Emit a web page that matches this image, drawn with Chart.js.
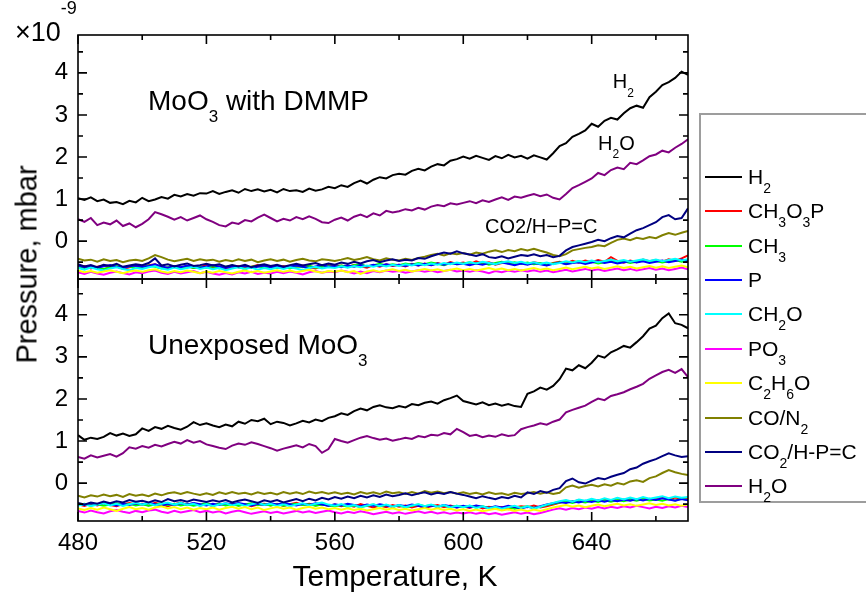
<!DOCTYPE html>
<html>
<head>
<meta charset="utf-8">
<script src="https://cdn.jsdelivr.net/npm/chart.js@4.4.1/dist/chart.umd.min.js"></script>
<style>
  html, body { margin: 0; padding: 0; background: #fff; }
  body {
    width: 866px; height: 595px; position: relative; overflow: hidden;
    font-family: "Liberation Sans", Arial, sans-serif; color: #000;
  }
  canvas { position: absolute; left: 0; }
  #top-canvas { top: 0; }
  #bottom-canvas { top: 245px; }
  .txt { position: absolute; white-space: nowrap; }
  #y-title {
    left: -123px; top: 250px; width: 300px; height: 29px;
    font-size: 29px; line-height: 29px; text-align: center;
    transform: rotate(-90deg);
  }
  #x-title {
    left: 245px; top: 561px; width: 300px;
    font-size: 30px; line-height: 30px; text-align: center;
  }
  #exponent { left: 15px; top: 19px; font-size: 27px; line-height: 27px; }
  #exponent .sup { font-size: 18px; line-height: 0; position: relative; top: -27px; }
  #legend-box {
    position: absolute; left: 699px; top: 113px; width: 200px; height: 390px;
    border: 2px solid #9d9d9d; box-sizing: border-box; background: #fff;
  }
  .item {
    position: absolute; left: 705px; height: 30px; display: flex; align-items: center;
    font-size: 21px; line-height: 30px; white-space: nowrap;
  }
  .swatch { width: 37px; height: 2px; margin-right: 6px; }
  .item sub { font-size: 14px; line-height: 0; vertical-align: -9px; }
</style>
</head>
<body>
<canvas id="top-canvas" width="700" height="310"></canvas>
<canvas id="bottom-canvas" width="700" height="350"></canvas>
<div id="y-title" class="txt">Pressure, mbar</div>
<div id="x-title" class="txt">Temperature, K</div>
<div id="exponent" class="txt">×10<span class="sup">-9</span></div>
<div id="legend-box"></div>
<div id="legend"></div>
<script>
const FONT = '"Liberation Sans", Arial, sans-serif';

const temps = [
  480, 482, 484, 486, 488, 490, 492, 494, 496, 498,
  500, 502, 504, 506, 508, 510, 512, 514, 516, 518,
  520, 522, 524, 526, 528, 530, 532, 534, 536, 538,
  540, 542, 544, 546, 548, 550, 552, 554, 556, 558,
  560, 562, 564, 566, 568, 570, 572, 574, 576, 578,
  580, 582, 584, 586, 588, 590, 592, 594, 596, 598,
  600, 602, 604, 606, 608, 610, 612, 614, 616, 618,
  620, 622, 624, 626, 628, 630, 632, 634, 636, 638,
  640, 642, 644, 646, 648, 650, 652, 654, 656, 658,
  660, 662, 664, 666, 668, 670
];

const xTickValues = [480, 520, 560, 600, 640];
const xMinorValues = [500, 540, 580, 620, 660];
const yTickValues = [0, 1, 2, 3, 4];
const yMinorValues = [-0.5, 0.5, 1.5, 2.5, 3.5, 4.5];

const seriesNames = ["H_2", "CH_3O_3P", "CH_3", "P", "CH_2O", "PO_3", "C_2H_6O", "CO/N_2", "CO_2/H-P=C", "H_2O"];
const seriesColors = ["#000000", "#ff0000", "#00ff00", "#0000ff", "#00ffff", "#ff00ff", "#ffff00", "#808000", "#000080", "#800080"];

// ---- top panel: MoO3 with DMMP ----
const topH2 = [
  1.02, 0.98, 1.04, 0.95, 0.99, 0.91, 0.93, 0.88, 0.96, 0.92,
  1.03, 0.95, 0.99, 1.05, 1.01, 1.10, 1.06, 1.12, 1.08, 1.14,
  1.13, 1.19, 1.12, 1.17, 1.21, 1.15, 1.24, 1.19, 1.23, 1.18,
  1.22, 1.16, 1.24, 1.19, 1.21, 1.17, 1.25, 1.20, 1.23, 1.29,
  1.26, 1.33, 1.29, 1.38, 1.44, 1.37, 1.46, 1.52, 1.49, 1.57,
  1.60, 1.58, 1.67, 1.72, 1.68, 1.77, 1.83, 1.80, 1.91, 1.95,
  2.01, 1.96, 2.03, 1.98, 1.93, 2.02, 1.97, 2.05, 1.99, 2.03,
  1.96, 2.04, 1.99, 1.94, 2.09, 2.26, 2.33, 2.48, 2.55, 2.63,
  2.79, 2.72, 2.86, 2.93, 2.89, 3.04, 3.16, 3.22, 3.17, 3.42,
  3.55, 3.71, 3.78, 3.88, 4.03, 3.95
];
const topCH3O3P = [
  -0.63, -0.59, -0.65, -0.61, -0.58, -0.64, -0.60, -0.66, -0.62, -0.59,
  -0.61, -0.57, -0.55, -0.62, -0.66, -0.60, -0.63, -0.59, -0.64, -0.61,
  -0.58, -0.63, -0.60, -0.66, -0.62, -0.59, -0.64, -0.61, -0.57, -0.62,
  -0.60, -0.64, -0.59, -0.63, -0.61, -0.58, -0.62, -0.65, -0.60, -0.57,
  -0.61, -0.58, -0.62, -0.56, -0.60, -0.63, -0.57, -0.61, -0.55, -0.59,
  -0.56, -0.60, -0.54, -0.58, -0.53, -0.57, -0.52, -0.56, -0.50, -0.54,
  -0.51, -0.55, -0.48, -0.53, -0.50, -0.56, -0.52, -0.49, -0.54, -0.51,
  -0.55, -0.50, -0.53, -0.57, -0.52, -0.49, -0.53, -0.47, -0.51, -0.46,
  -0.50, -0.45, -0.49, -0.38, -0.47, -0.51, -0.46, -0.50, -0.44, -0.48,
  -0.45, -0.49, -0.43, -0.47, -0.41, -0.34
];
const topCH3 = [
  -0.61, -0.64, -0.60, -0.63, -0.66, -0.62, -0.59, -0.63, -0.60, -0.64,
  -0.62, -0.58, -0.61, -0.65, -0.62, -0.59, -0.63, -0.60, -0.64, -0.61,
  -0.63, -0.60, -0.65, -0.61, -0.58, -0.62, -0.66, -0.61, -0.59, -0.63,
  -0.60, -0.63, -0.61, -0.65, -0.60, -0.62, -0.58, -0.63, -0.61, -0.59,
  -0.62, -0.58, -0.61, -0.57, -0.55, -0.60, -0.57, -0.54, -0.58, -0.55,
  -0.57, -0.53, -0.56, -0.52, -0.55, -0.51, -0.54, -0.57, -0.52, -0.55,
  -0.53, -0.50, -0.54, -0.51, -0.56, -0.52, -0.49, -0.53, -0.50, -0.54,
  -0.51, -0.55, -0.52, -0.56, -0.53, -0.50, -0.54, -0.51, -0.48, -0.52,
  -0.49, -0.53, -0.50, -0.47, -0.51, -0.48, -0.52, -0.49, -0.46, -0.50,
  -0.47, -0.51, -0.48, -0.45, -0.49, -0.46
];
const topP = [
  -0.58, -0.62, -0.59, -0.63, -0.60, -0.57, -0.61, -0.64, -0.60, -0.58,
  -0.61, -0.59, -0.55, -0.60, -0.63, -0.59, -0.62, -0.58, -0.61, -0.63,
  -0.60, -0.57, -0.61, -0.64, -0.60, -0.62, -0.59, -0.63, -0.61, -0.58,
  -0.62, -0.59, -0.63, -0.60, -0.58, -0.61, -0.64, -0.60, -0.57, -0.61,
  -0.59, -0.62, -0.58, -0.61, -0.57, -0.60, -0.56, -0.59, -0.55, -0.58,
  -0.56, -0.59, -0.55, -0.58, -0.54, -0.57, -0.53, -0.56, -0.52, -0.55,
  -0.54, -0.57, -0.53, -0.56, -0.52, -0.55, -0.51, -0.54, -0.57, -0.53,
  -0.56, -0.52, -0.55, -0.58, -0.54, -0.51, -0.55, -0.52, -0.50, -0.54,
  -0.51, -0.48, -0.52, -0.49, -0.53, -0.50, -0.47, -0.51, -0.48, -0.52,
  -0.49, -0.46, -0.50, -0.47, -0.44, -0.48
];
const topCH2O = [
  -0.64, -0.68, -0.63, -0.67, -0.70, -0.65, -0.62, -0.66, -0.69, -0.64,
  -0.66, -0.62, -0.60, -0.65, -0.68, -0.63, -0.67, -0.64, -0.61, -0.66,
  -0.63, -0.67, -0.64, -0.69, -0.65, -0.62, -0.66, -0.63, -0.68, -0.64,
  -0.67, -0.63, -0.66, -0.62, -0.65, -0.69, -0.64, -0.61, -0.65, -0.62,
  -0.64, -0.60, -0.63, -0.59, -0.62, -0.58, -0.61, -0.57, -0.60, -0.56,
  -0.59, -0.55, -0.58, -0.54, -0.57, -0.53, -0.56, -0.52, -0.55, -0.51,
  -0.54, -0.50, -0.53, -0.49, -0.52, -0.55, -0.51, -0.48, -0.52, -0.49,
  -0.53, -0.50, -0.54, -0.51, -0.55, -0.52, -0.48, -0.51, -0.47, -0.50,
  -0.46, -0.50, -0.47, -0.44, -0.48, -0.45, -0.49, -0.46, -0.43, -0.47,
  -0.44, -0.48, -0.45, -0.42, -0.46, -0.43
];
const topPO3 = [
  -0.74, -0.78, -0.73, -0.77, -0.80, -0.75, -0.72, -0.76, -0.79, -0.74,
  -0.76, -0.72, -0.70, -0.75, -0.78, -0.73, -0.77, -0.74, -0.71, -0.76,
  -0.73, -0.77, -0.80, -0.76, -0.79, -0.74, -0.77, -0.73, -0.78, -0.75,
  -0.77, -0.73, -0.76, -0.72, -0.75, -0.79, -0.74, -0.71, -0.75, -0.72,
  -0.74, -0.70, -0.73, -0.77, -0.72, -0.76, -0.71, -0.74, -0.70, -0.73,
  -0.71, -0.75, -0.72, -0.69, -0.73, -0.70, -0.74, -0.71, -0.68, -0.72,
  -0.70, -0.73, -0.69, -0.72, -0.76, -0.71, -0.74, -0.70, -0.73, -0.69,
  -0.72, -0.69, -0.73, -0.70, -0.74, -0.71, -0.68, -0.72, -0.69, -0.66,
  -0.70, -0.67, -0.71, -0.68, -0.65, -0.69, -0.66, -0.70, -0.67, -0.64,
  -0.68, -0.65, -0.69, -0.66, -0.63, -0.67
];
const topC2H6O = [
  -0.70, -0.74, -0.71, -0.75, -0.72, -0.69, -0.73, -0.76, -0.72, -0.70,
  -0.73, -0.69, -0.67, -0.72, -0.75, -0.71, -0.74, -0.70, -0.73, -0.76,
  -0.72, -0.75, -0.71, -0.74, -0.77, -0.73, -0.70, -0.74, -0.71, -0.75,
  -0.72, -0.69, -0.73, -0.70, -0.74, -0.71, -0.68, -0.72, -0.75, -0.71,
  -0.73, -0.70, -0.74, -0.71, -0.78, -0.72, -0.69, -0.73, -0.70, -0.67,
  -0.71, -0.68, -0.72, -0.69, -0.66, -0.70, -0.67, -0.71, -0.68, -0.65,
  -0.69, -0.66, -0.70, -0.67, -0.64, -0.68, -0.65, -0.69, -0.66, -0.70,
  -0.67, -0.64, -0.68, -0.65, -0.69, -0.66, -0.63, -0.67, -0.64, -0.61,
  -0.65, -0.62, -0.66, -0.63, -0.60, -0.64, -0.61, -0.65, -0.62, -0.59,
  -0.63, -0.60, -0.64, -0.61, -0.58, -0.62
];
const topCON2 = [
  -0.42, -0.46, -0.44, -0.49, -0.43, -0.47, -0.45, -0.50, -0.46, -0.44,
  -0.47, -0.41, -0.33, -0.38, -0.44, -0.48, -0.45, -0.42, -0.47, -0.43,
  -0.46, -0.44, -0.49, -0.45, -0.48, -0.43, -0.47, -0.44, -0.50, -0.46,
  -0.43, -0.47, -0.44, -0.49, -0.45, -0.42, -0.46, -0.48, -0.43, -0.45,
  -0.47, -0.44, -0.40, -0.45, -0.42, -0.38, -0.43, -0.46, -0.41, -0.44,
  -0.46, -0.42, -0.45, -0.40, -0.37, -0.33, -0.30, -0.34, -0.29, -0.31,
  -0.28, -0.32, -0.27, -0.30, -0.25, -0.22, -0.26, -0.21, -0.24, -0.19,
  -0.22, -0.18, -0.23, -0.27, -0.33, -0.36, -0.31, -0.22, -0.19, -0.16,
  -0.14, -0.10, -0.12, -0.04, 0.03, 0.06, 0.02, 0.08, 0.05, 0.10,
  0.07, 0.14, 0.19, 0.15, 0.20, 0.24
];
const topCO2 = [
  -0.55, -0.60, -0.57, -0.62, -0.56, -0.59, -0.54, -0.61, -0.58, -0.55,
  -0.57, -0.52, -0.41, -0.58, -0.55, -0.60, -0.56, -0.53, -0.59, -0.57,
  -0.54, -0.58, -0.55, -0.61, -0.57, -0.60, -0.56, -0.62, -0.58, -0.55,
  -0.59, -0.56, -0.61, -0.57, -0.54, -0.58, -0.55, -0.52, -0.57, -0.53,
  -0.56, -0.51, -0.54, -0.49, -0.53, -0.48, -0.45, -0.50, -0.46, -0.43,
  -0.47, -0.44, -0.46, -0.40, -0.42, -0.36, -0.31, -0.27, -0.30, -0.24,
  -0.29, -0.32, -0.35, -0.31, -0.38, -0.40, -0.36, -0.41, -0.37, -0.33,
  -0.35, -0.31, -0.36, -0.33, -0.38, -0.35, -0.22, -0.14, -0.10, -0.06,
  -0.02, 0.03, 0.00, 0.07, 0.12, 0.09, 0.18, 0.26, 0.31, 0.38,
  0.45, 0.57, 0.62, 0.52, 0.55, 0.78
];
const topH2O = [
  0.52, 0.46, 0.55, 0.38, 0.44, 0.40, 0.49, 0.36, 0.42, 0.33,
  0.41, 0.52, 0.69, 0.64, 0.58, 0.51, 0.57, 0.49, 0.55, 0.61,
  0.52, 0.46, 0.38, 0.35, 0.44, 0.41, 0.50, 0.47, 0.56, 0.63,
  0.55, 0.47, 0.53, 0.49, 0.57, 0.52, 0.59, 0.53, 0.45, 0.43,
  0.51, 0.56, 0.49, 0.58, 0.63, 0.57, 0.66, 0.61, 0.72, 0.68,
  0.71, 0.76, 0.73, 0.79, 0.75, 0.82, 0.86, 0.83, 0.90, 0.87,
  0.91, 0.95, 0.90, 0.97, 0.93, 0.99, 1.04, 0.98, 1.06, 1.03,
  1.08, 1.12, 1.07, 1.11, 1.03, 0.99, 1.12, 1.26, 1.33, 1.41,
  1.49, 1.62, 1.57, 1.69, 1.75, 1.71, 1.86, 1.83, 1.92, 2.02,
  2.06, 2.15, 2.11, 2.22, 2.31, 2.42
];

// ---- bottom panel: unexposed MoO3 ----
const botH2 = [
  1.14, 1.03, 1.08, 1.05, 1.10, 1.19, 1.13, 1.18, 1.12, 1.16,
  1.30, 1.24, 1.33, 1.29, 1.36, 1.31, 1.27, 1.34, 1.45, 1.38,
  1.42, 1.37, 1.33, 1.39, 1.35, 1.46, 1.41, 1.50, 1.47, 1.53,
  1.40, 1.46, 1.43, 1.37, 1.42, 1.48, 1.44, 1.51, 1.47, 1.55,
  1.59, 1.66, 1.62, 1.71, 1.77, 1.73, 1.81, 1.85, 1.80, 1.78,
  1.83, 1.80, 1.88, 1.85, 1.91, 1.94, 1.89, 1.97, 2.02, 2.08,
  1.95, 1.91, 1.87, 1.92, 1.85, 1.89, 1.84, 1.88, 1.83, 1.81,
  2.12, 2.18, 2.27, 2.22, 2.31, 2.47, 2.72, 2.68, 2.80, 2.73,
  2.86, 3.03, 2.98, 3.11, 3.18, 3.26, 3.22, 3.35, 3.49, 3.67,
  3.74, 3.92, 4.03, 3.80, 3.76, 3.68
];
const botCH3O3P = [
  -0.50, -0.54, -0.49, -0.53, -0.48, -0.52, -0.55, -0.50, -0.47, -0.51,
  -0.49, -0.53, -0.47, -0.51, -0.55, -0.50, -0.46, -0.52, -0.48, -0.53,
  -0.50, -0.54, -0.49, -0.52, -0.48, -0.53, -0.50, -0.55, -0.51, -0.49,
  -0.53, -0.49, -0.54, -0.50, -0.47, -0.52, -0.49, -0.53, -0.50, -0.54,
  -0.51, -0.55, -0.52, -0.56, -0.50, -0.54, -0.58, -0.53, -0.57, -0.52,
  -0.56, -0.53, -0.58, -0.54, -0.59, -0.55, -0.52, -0.57, -0.53, -0.58,
  -0.55, -0.59, -0.54, -0.60, -0.56, -0.61, -0.57, -0.62, -0.58, -0.55,
  -0.57, -0.53, -0.58, -0.55, -0.51, -0.47, -0.42, -0.45, -0.40, -0.44,
  -0.39, -0.43, -0.38, -0.42, -0.36, -0.41, -0.37, -0.40, -0.35, -0.39,
  -0.36, -0.33, -0.38, -0.34, -0.37, -0.35
];
const botCH3 = [
  -0.52, -0.49, -0.53, -0.50, -0.54, -0.51, -0.48, -0.52, -0.49, -0.53,
  -0.50, -0.54, -0.51, -0.48, -0.52, -0.49, -0.53, -0.50, -0.54, -0.51,
  -0.48, -0.52, -0.49, -0.53, -0.50, -0.54, -0.51, -0.48, -0.52, -0.50,
  -0.53, -0.50, -0.54, -0.51, -0.49, -0.52, -0.50, -0.54, -0.51, -0.53,
  -0.55, -0.52, -0.56, -0.53, -0.57, -0.54, -0.51, -0.55, -0.52, -0.56,
  -0.53, -0.57, -0.54, -0.51, -0.55, -0.52, -0.56, -0.53, -0.57, -0.54,
  -0.57, -0.54, -0.58, -0.55, -0.59, -0.56, -0.60, -0.57, -0.61, -0.58,
  -0.55, -0.59, -0.56, -0.52, -0.49, -0.46, -0.44, -0.47, -0.43, -0.46,
  -0.42, -0.45, -0.41, -0.44, -0.40, -0.43, -0.39, -0.42, -0.38, -0.41,
  -0.39, -0.42, -0.38, -0.41, -0.37, -0.40
];
const botP = [
  -0.49, -0.52, -0.48, -0.51, -0.47, -0.50, -0.53, -0.49, -0.52, -0.48,
  -0.51, -0.47, -0.50, -0.53, -0.49, -0.52, -0.48, -0.51, -0.47, -0.50,
  -0.53, -0.49, -0.52, -0.48, -0.51, -0.47, -0.50, -0.53, -0.49, -0.52,
  -0.48, -0.51, -0.47, -0.50, -0.53, -0.49, -0.52, -0.48, -0.51, -0.54,
  -0.50, -0.53, -0.49, -0.52, -0.55, -0.51, -0.54, -0.50, -0.53, -0.56,
  -0.52, -0.55, -0.51, -0.54, -0.57, -0.53, -0.56, -0.52, -0.55, -0.58,
  -0.54, -0.57, -0.53, -0.56, -0.59, -0.55, -0.58, -0.54, -0.57, -0.60,
  -0.56, -0.59, -0.55, -0.51, -0.48, -0.45, -0.47, -0.43, -0.46, -0.42,
  -0.45, -0.41, -0.44, -0.40, -0.43, -0.39, -0.42, -0.38, -0.41, -0.37,
  -0.40, -0.36, -0.39, -0.42, -0.38, -0.41
];
const botCH2O = [
  -0.53, -0.50, -0.55, -0.51, -0.48, -0.53, -0.49, -0.54, -0.50, -0.47,
  -0.51, -0.48, -0.53, -0.49, -0.46, -0.51, -0.47, -0.52, -0.49, -0.54,
  -0.50, -0.55, -0.51, -0.48, -0.53, -0.49, -0.54, -0.50, -0.47, -0.52,
  -0.49, -0.54, -0.50, -0.55, -0.51, -0.48, -0.53, -0.49, -0.46, -0.51,
  -0.54, -0.50, -0.55, -0.52, -0.57, -0.53, -0.50, -0.55, -0.51, -0.56,
  -0.52, -0.57, -0.53, -0.50, -0.55, -0.51, -0.56, -0.52, -0.58, -0.54,
  -0.57, -0.53, -0.59, -0.55, -0.60, -0.56, -0.61, -0.57, -0.54, -0.59,
  -0.55, -0.60, -0.56, -0.51, -0.47, -0.43, -0.40, -0.44, -0.39, -0.42,
  -0.37, -0.41, -0.36, -0.40, -0.35, -0.39, -0.34, -0.38, -0.33, -0.37,
  -0.34, -0.31, -0.36, -0.32, -0.35, -0.33
];
const botPO3 = [
  -0.66, -0.70, -0.65, -0.69, -0.72, -0.67, -0.64, -0.68, -0.71, -0.66,
  -0.69, -0.65, -0.63, -0.68, -0.71, -0.66, -0.70, -0.67, -0.64, -0.69,
  -0.66, -0.70, -0.67, -0.72, -0.68, -0.65, -0.69, -0.73, -0.70, -0.67,
  -0.71, -0.68, -0.72, -0.69, -0.66, -0.70, -0.67, -0.71, -0.68, -0.65,
  -0.69, -0.72, -0.68, -0.71, -0.67, -0.70, -0.74, -0.71, -0.68, -0.72,
  -0.69, -0.73, -0.70, -0.67, -0.71, -0.68, -0.72, -0.69, -0.73, -0.70,
  -0.72, -0.69, -0.73, -0.70, -0.74, -0.71, -0.75, -0.72, -0.69, -0.73,
  -0.70, -0.74, -0.71, -0.67, -0.63, -0.60, -0.63, -0.59, -0.62, -0.58,
  -0.61, -0.57, -0.60, -0.56, -0.59, -0.55, -0.58, -0.54, -0.57, -0.60,
  -0.56, -0.59, -0.55, -0.58, -0.54, -0.57
];
const botC2H6O = [
  -0.60, -0.64, -0.59, -0.63, -0.58, -0.62, -0.66, -0.61, -0.57, -0.62,
  -0.59, -0.63, -0.58, -0.55, -0.60, -0.57, -0.62, -0.58, -0.63, -0.59,
  -0.62, -0.58, -0.63, -0.59, -0.56, -0.61, -0.57, -0.62, -0.58, -0.64,
  -0.60, -0.57, -0.61, -0.58, -0.63, -0.59, -0.56, -0.61, -0.58, -0.62,
  -0.59, -0.63, -0.60, -0.64, -0.61, -0.65, -0.62, -0.59, -0.63, -0.60,
  -0.64, -0.61, -0.65, -0.62, -0.59, -0.63, -0.60, -0.64, -0.61, -0.65,
  -0.62, -0.66, -0.63, -0.67, -0.64, -0.61, -0.65, -0.62, -0.66, -0.63,
  -0.67, -0.63, -0.66, -0.62, -0.58, -0.55, -0.52, -0.56, -0.53, -0.57,
  -0.54, -0.51, -0.55, -0.52, -0.49, -0.53, -0.50, -0.54, -0.51, -0.48,
  -0.52, -0.49, -0.53, -0.50, -0.54, -0.51
];
const botCON2 = [
  -0.30, -0.34, -0.29, -0.32, -0.27, -0.31, -0.28, -0.33, -0.26, -0.30,
  -0.27, -0.31, -0.25, -0.29, -0.24, -0.22, -0.26, -0.21, -0.25, -0.28,
  -0.24, -0.28, -0.22, -0.26, -0.21, -0.25, -0.23, -0.27, -0.22, -0.26,
  -0.23, -0.27, -0.21, -0.25, -0.22, -0.26, -0.20, -0.24, -0.21, -0.25,
  -0.22, -0.26, -0.23, -0.27, -0.21, -0.25, -0.22, -0.26, -0.20, -0.24,
  -0.22, -0.26, -0.21, -0.25, -0.19, -0.23, -0.20, -0.24, -0.21, -0.25,
  -0.22, -0.26, -0.23, -0.27, -0.22, -0.26, -0.24, -0.28, -0.23, -0.26,
  -0.24, -0.21, -0.25, -0.22, -0.26, -0.23, -0.10, -0.06, -0.11, -0.07,
  -0.04, -0.08, -0.03, -0.06, 0.00, -0.03, 0.04, 0.07, 0.03, 0.12,
  0.16, 0.24, 0.31, 0.26, 0.22, 0.19
];
const botCO2 = [
  -0.47, -0.51, -0.46, -0.49, -0.44, -0.48, -0.43, -0.46, -0.40, -0.44,
  -0.42, -0.46, -0.41, -0.45, -0.38, -0.43, -0.40, -0.44, -0.39, -0.42,
  -0.45, -0.41, -0.44, -0.40, -0.46, -0.42, -0.39, -0.43, -0.47, -0.41,
  -0.44, -0.40, -0.46, -0.42, -0.38, -0.43, -0.37, -0.41, -0.35, -0.39,
  -0.33, -0.37, -0.32, -0.36, -0.30, -0.34, -0.29, -0.33, -0.27, -0.31,
  -0.28, -0.24, -0.29, -0.25, -0.22, -0.27, -0.23, -0.26, -0.21, -0.25,
  -0.28, -0.32, -0.36, -0.31, -0.35, -0.38, -0.33, -0.36, -0.30, -0.34,
  -0.22, -0.26, -0.19, -0.23, -0.16, -0.12, 0.05, 0.11, 0.02, -0.01,
  0.06, 0.12, 0.09, 0.15, 0.20, 0.24, 0.33, 0.37, 0.46, 0.52,
  0.57, 0.64, 0.71, 0.66, 0.62, 0.64
];
const botH2O = [
  0.62, 0.58, 0.66, 0.61, 0.65, 0.69, 0.63, 0.71, 0.85, 0.82,
  0.88, 0.84, 0.91, 0.87, 0.93, 0.98, 0.94, 1.02, 0.96, 1.00,
  0.92, 0.88, 0.84, 0.81, 0.89, 0.94, 0.91, 0.97, 0.93, 0.88,
  0.83, 0.77, 0.82, 0.86, 0.90, 0.85, 0.93, 0.88, 0.72, 0.81,
  1.05, 1.00, 0.96, 1.02, 1.08, 1.12, 1.07, 1.03, 1.06, 1.01,
  1.04, 1.08, 1.05, 1.12, 1.09, 1.15, 1.13, 1.19, 1.16, 1.29,
  1.21, 1.12, 1.15, 1.09, 1.13, 1.10, 1.16, 1.12, 1.14, 1.28,
  1.33, 1.37, 1.42, 1.39, 1.46, 1.51, 1.68, 1.74, 1.79, 1.84,
  1.93, 2.01, 1.97, 2.07, 2.11, 2.16, 2.23, 2.29, 2.36, 2.48,
  2.56, 2.64, 2.69, 2.62, 2.71, 2.52
];

const topSeries = [topH2, topCH3O3P, topCH3, topP, topCH2O, topPO3, topC2H6O, topCON2, topCO2, topH2O];
const bottomSeries = [botH2, botCH3O3P, botCH3, botP, botCH2O, botPO3, botC2H6O, botCON2, botCO2, botH2O];

// in-panel labels, placed in data units (temperature, pressure)
const topLabels = [
  { text: "MoO_3 with DMMP", x: 501.8, y: 3.12, size: 28 },
  { text: "H_2", x: 646.6, y: 3.63, size: 20 },
  { text: "H_2O", x: 642.0, y: 2.17, size: 20 },
  { text: "CO2/H\u2212P=C", x: 606.8, y: 0.2, size: 20 },
];
const bottomLabels = [
  { text: "Unexposed MoO_3", x: 501.8, y: 3.06, size: 28 },
];

function parseRich(text) {
  const segs = [];
  let buf = "";
  for (let i = 0; i < text.length; i++) {
    if (text[i] === "_") {
      if (buf) segs.push({ t: buf, sub: false });
      buf = "";
      segs.push({ t: text[i + 1], sub: true });
      i++;
    } else {
      buf += text[i];
    }
  }
  if (buf) segs.push({ t: buf, sub: false });
  return segs;
}

function drawRich(ctx, text, x, y, size) {
  let cx = x;
  parseRich(text).forEach((seg) => {
    const fs = seg.sub ? Math.round(size * 0.62) : size;
    ctx.font = `${fs}px ${FONT}`;
    ctx.fillText(seg.t, cx, seg.sub ? y + size * 0.42 : y);
    cx += ctx.measureText(seg.t).width;
  });
}

const framePlugin = {
  id: "frame",
  afterDatasetsDraw(chart) {
    const { ctx, chartArea: a } = chart;
    const x = chart.scales.x;
    const y = chart.scales.y;
    ctx.save();
    ctx.strokeStyle = "#000";
    ctx.lineWidth = 1.6;
    ctx.strokeRect(a.left, a.top, a.right - a.left, a.bottom - a.top);
    ctx.beginPath();
    const xTicks = (vals, len) => vals.forEach((v) => {
      const px = x.getPixelForValue(v);
      ctx.moveTo(px, a.bottom); ctx.lineTo(px, a.bottom - len);
      ctx.moveTo(px, a.top); ctx.lineTo(px, a.top + len);
    });
    const yTicks = (vals, len) => vals.forEach((v) => {
      const py = y.getPixelForValue(v);
      if (py < a.top || py > a.bottom) return;
      ctx.moveTo(a.left, py); ctx.lineTo(a.left + len, py);
      ctx.moveTo(a.right, py); ctx.lineTo(a.right - len, py);
    });
    xTicks(xTickValues, 9);
    xTicks(xMinorValues, 5);
    yTicks(yTickValues, 9);
    yTicks(yMinorValues, 5);
    ctx.stroke();
    ctx.restore();
  },
  afterDraw(chart, args, opts) {
    const { ctx } = chart;
    ctx.save();
    ctx.fillStyle = "#000";
    ctx.textBaseline = "alphabetic";
    ctx.textAlign = "left";
    (opts.items || []).forEach((item) => {
      const px = chart.scales.x.getPixelForValue(item.x);
      const py = chart.scales.y.getPixelForValue(item.y);
      drawRich(ctx, item.text, px, py, item.size);
    });
    ctx.restore();
  },
};

function makePanel(canvasId, series, yMin, yMax, showX, labels, padding) {
  const datasets = series.map((vals, i) => ({
    label: seriesNames[i].replace(/_/g, ""),
    data: temps.map((t, k) => ({ x: t, y: vals[k] })),
    borderColor: seriesColors[i],
    backgroundColor: seriesColors[i],
    borderWidth: 2,
    pointRadius: 0,
    tension: 0,
    order: series.length - i,
  }));

  return new Chart(document.getElementById(canvasId), {
    type: "line",
    data: { datasets },
    options: {
      responsive: false,
      animation: false,
      devicePixelRatio: 1,
      layout: { padding },
      plugins: {
        legend: { display: false },
        tooltip: { enabled: false },
        frame: { items: labels },
      },
      scales: {
        x: {
          type: "linear",
          min: 480,
          max: 670,
          display: showX,
          afterBuildTicks: (scale) => { scale.ticks = xTickValues.map((v) => ({ value: v })); },
          afterFit: (scale) => { scale.height = showX ? 74 : 0; },
          grid: { display: false, drawTicks: false },
          border: { display: false },
          ticks: {
            color: "#000",
            font: { family: FONT, size: 24 },
            padding: 8,
            autoSkip: false,
            maxRotation: 0,
          },
        },
        y: {
          type: "linear",
          min: yMin,
          max: yMax,
          afterBuildTicks: (scale) => { scale.ticks = yTickValues.map((v) => ({ value: v })); },
          afterFit: (scale) => { scale.width = 78; },
          grid: { display: false, drawTicks: false },
          border: { display: false },
          ticks: {
            color: "#000",
            font: { family: FONT, size: 24 },
            padding: 10,
          },
        },
      },
    },
    plugins: [framePlugin],
  });
}

makePanel("top-canvas", topSeries, -0.9, 4.9, false, topLabels, { left: 0, right: 12, top: 35, bottom: 31 });
makePanel("bottom-canvas", bottomSeries, -0.9, 4.85, true, bottomLabels, { left: 0, right: 12, top: 34, bottom: 0 });

// legend, built from the same names and colours
const legend = document.getElementById("legend");
seriesNames.forEach((name, i) => {
  const item = document.createElement("div");
  item.className = "item";
  item.style.top = `${Math.round(176.7 + 34.4 * i - 15)}px`;
  const swatch = document.createElement("span");
  swatch.className = "swatch";
  swatch.style.background = seriesColors[i];
  const label = document.createElement("span");
  label.innerHTML = name.replace(/_(\d)/g, "<sub>$1</sub>");
  item.appendChild(swatch);
  item.appendChild(label);
  legend.appendChild(item);
});
</script>
</body>
</html>
